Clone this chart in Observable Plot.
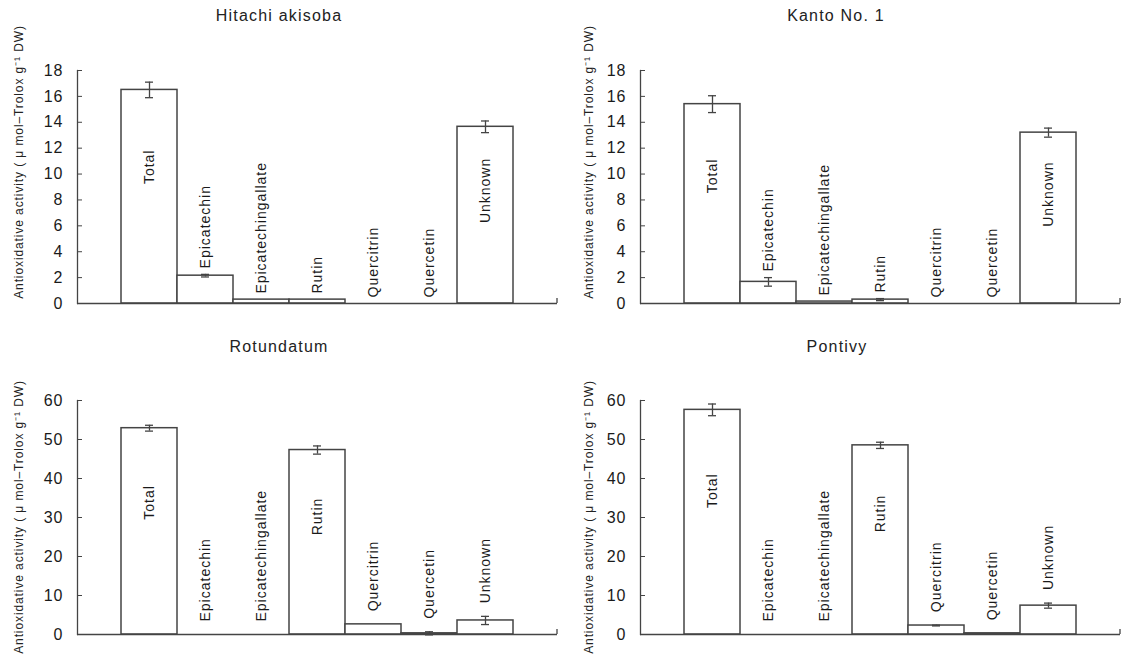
<!DOCTYPE html>
<html><head><meta charset="utf-8">
<script src="https://cdn.jsdelivr.net/npm/d3@7"></script>
<script src="https://cdn.jsdelivr.net/npm/@observablehq/plot@0.6"></script>
<style>
body{margin:0;background:#fff;}
#root{position:relative;width:1122px;height:662px;overflow:hidden;font-family:"Liberation Sans",Arial,sans-serif;color:#222;background:#fff;}
.panel{position:absolute;}
.title{position:absolute;font-size:16px;letter-spacing:1.2px;transform:translate(-50%,-50%);white-space:nowrap;}
.ytitle{position:absolute;font-size:12px;letter-spacing:0.9px;white-space:nowrap;transform:translate(-50%,-50%) rotate(-90deg);}
svg text{letter-spacing:1px;}
</style></head><body><div id="root"></div>
<script>
// ---- data ----
const categories = ["Total","Epicatechin","Epicatechingallate","Rutin","Quercitrin","Quercetin","Unknown"];
const yTitle = "Antioxidative activity ( \u03bc mol\u2013Trolox g\u207b\u00b9 DW)";

const hitachiValues = [16.5, 2.15, 0.3, 0.3, 0, 0, 13.65];
const hitachiErrors = [0.6, 0.1, 0, 0, 0, 0, 0.45];

const kantoValues = [15.4, 1.67, 0.15, 0.3, 0, 0, 13.2];
const kantoErrors = [0.65, 0.33, 0, 0.08, 0, 0, 0.35];

const rotundatumValues = [52.9, 0, 0, 47.3, 2.6, 0.3, 3.6];
const rotundatumErrors = [0.75, 0, 0, 1.05, 0, 0.4, 1.05];

const pontivyValues = [57.6, 0, 0, 48.5, 2.3, 0.3, 7.4];
const pontivyErrors = [1.5, 0, 0, 0.8, 0.1, 0, 0.65];

const titles = ["Hitachi akisoba", "Kanto No. 1", "Rotundatum", "Pontivy"];
const yMaxes = [18, 18, 60, 60];
const ySteps = [2, 2, 10, 10];

// ---- layout ----
const panels = [
  {values: hitachiValues, errors: hitachiErrors, left: 0, top: 0, width: 561, height: 331, mt: 70, mb: 28, tx: 279, ty: 16, yx: 18, yy: 162, gap: 6},
  {values: kantoValues, errors: kantoErrors, left: 563, top: 0, width: 559, height: 331, mt: 70, mb: 28, tx: 836, ty: 16, yx: 588, yy: 162, gap: 6},
  {values: rotundatumValues, errors: rotundatumErrors, left: 0, top: 320, width: 561, height: 342, mt: 80, mb: 28, tx: 279, ty: 347, yx: 18, yy: 517, gap: 13},
  {values: pontivyValues, errors: pontivyErrors, left: 563, top: 320, width: 559, height: 342, mt: 80, mb: 28, tx: 837, ty: 347, yx: 588, yy: 517, gap: 13}
];

const root = document.getElementById("root");
const ink = "#444";

panels.forEach((p, k) => {
  const yMax = yMaxes[k], yStep = ySteps[k];
  const rows = categories.map((c, i) => ({category: c, value: p.values[i], err: p.errors[i]}));
  const bars = rows.filter(d => d.value > 0);
  const errs = rows.filter(d => d.err > 0);
  const inside = rows.filter(d => d.value > 0.3 * yMax);
  const outside = rows.filter(d => !(d.value > 0.3 * yMax));
  const axisEnd = 557;

  const endTick = (index, scales, values, dims) => {
    const x = dims.width - dims.marginRight;
    const y0 = scales.y(0);
    return d3.create("svg:line")
      .attr("x1", x).attr("x2", x)
      .attr("y1", y0).attr("y2", y0 - 5)
      .attr("stroke", ink).attr("stroke-width", 1.3).node();
  };

  const chart = Plot.plot({
    width: p.width,
    height: p.height,
    marginLeft: 77,
    marginRight: p.width - axisEnd,
    marginTop: p.mt,
    marginBottom: p.mb,
    style: {fontFamily: '"Liberation Sans", Arial, sans-serif', color: "#222", background: "white", overflow: "visible"},
    x: {type: "band", domain: categories, padding: 0, insetLeft: 42, insetRight: 42, axis: null},
    y: {domain: [0, yMax], axis: null},
    marks: [
      Plot.barY(bars, {x: "category", y: "value", fill: "white", stroke: ink, strokeWidth: 1.5}),
      Plot.ruleX(errs, {x: "category", y1: d => d.value - d.err, y2: d => d.value + d.err, stroke: ink, strokeWidth: 1.3}),
      Plot.tickY(errs, {x: "category", y: d => d.value + d.err, insetLeft: 24, insetRight: 24, stroke: ink, strokeWidth: 1.3}),
      Plot.tickY(errs, {x: "category", y: d => d.value - d.err, insetLeft: 24, insetRight: 24, stroke: ink, strokeWidth: 1.3}),
      Plot.frame({anchor: "left", stroke: ink, strokeWidth: 1.3}),
      Plot.ruleY([0], {stroke: ink, strokeWidth: 1.3}),
      endTick,
      Plot.axisY({ticks: d3.range(0, yMax + yStep / 2, yStep), label: null, tickSize: -5, tickPadding: 19, fontSize: 16, stroke: ink, fill: "#1a1a1a"}),
      Plot.text(inside, {x: "category", y: d => d.value * 0.64, text: "category", rotate: -90, textAnchor: "middle", fontSize: 14, fill: "#1a1a1a"}),
      Plot.text(outside, {x: "category", y: d => d.value + d.err, text: "category", rotate: -90, textAnchor: "start", dy: -p.gap, fontSize: 14, fill: "#1a1a1a"})
    ]
  });
  chart.classList.add("panel");
  chart.style.left = p.left + "px";
  chart.style.top = p.top + "px";
  root.appendChild(chart);

  const t = document.createElement("div");
  t.className = "title";
  t.textContent = titles[k];
  t.style.left = p.tx + "px";
  t.style.top = p.ty + "px";
  root.appendChild(t);

  const yt = document.createElement("div");
  yt.className = "ytitle";
  yt.textContent = yTitle;
  yt.style.left = p.yx + "px";
  yt.style.top = p.yy + "px";
  root.appendChild(yt);
});
</script></body></html>
